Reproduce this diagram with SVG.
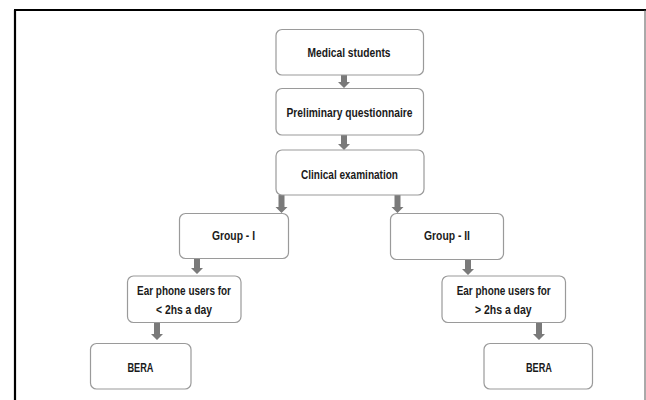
<svg xmlns="http://www.w3.org/2000/svg" width="646" height="400" viewBox="0 0 646 400">
<style>
.box{fill:#fff;stroke:#9a9a9a;stroke-width:1.2}
.t{font-family:"Liberation Sans",Arial,sans-serif;font-size:12px;font-weight:bold;fill:#1a1a1a;text-anchor:middle}
.arr{fill:#7a7a7a}
</style>
<rect x="0" y="0" width="646" height="400" fill="#fff"/>
<g id="frame">
<line x1="15" y1="10" x2="15" y2="400" stroke="#000" stroke-width="2.2"/>
<line x1="14" y1="10" x2="646" y2="10" stroke="#000" stroke-width="2.2"/>
<line x1="645" y1="10" x2="645" y2="400" stroke="#555" stroke-width="1"/>
</g>
<g id="connectors">
<polygon class="arr" points="341,75 347,75 347,82 350,82 344,88 338,82 341,82"/>
<polygon class="arr" points="341,135 347,135 347,144 350,144 344,150 338,144 341,144"/>
<polygon class="arr" points="278.5,195 284.5,195 284.5,207 287.5,207 281.5,213 275.5,207 278.5,207"/>
<polygon class="arr" points="394.5,195 400.5,195 400.5,207 403.5,207 397.5,213 391.5,207 394.5,207"/>
<polygon class="arr" points="194,258 200,258 200,268 203,268 197,274 191,268 194,268"/>
<polygon class="arr" points="465,259 471,259 471,269 474,269 468,275 462,269 465,269"/>
<polygon class="arr" points="154,322 160,322 160,334 163,334 157,340 151,334 154,334"/>
<polygon class="arr" points="536,323 542,323 542,334 545,334 539,340 533,334 536,334"/>
</g>
<g id="medical">
<rect class="box" x="276" y="29.5" width="147.5" height="45.5" rx="6"/>
<text class="t" x="349" y="57" textLength="83" lengthAdjust="spacingAndGlyphs">Medical students</text>
</g>
<g id="preliminary">
<rect class="box" x="276" y="88.5" width="147.5" height="46.5" rx="6"/>
<text class="t" x="349.5" y="117" textLength="126" lengthAdjust="spacingAndGlyphs">Preliminary questionnaire</text>
</g>
<g id="clinical">
<rect class="box" x="276" y="150" width="148" height="45" rx="6"/>
<text class="t" x="349.5" y="178.5" textLength="97" lengthAdjust="spacingAndGlyphs">Clinical examination</text>
</g>
<g id="group1">
<rect class="box" x="179.5" y="213.5" width="109" height="45" rx="6"/>
<text class="t" x="233.5" y="239.5" textLength="43" lengthAdjust="spacingAndGlyphs">Group - I</text>
</g>
<g id="group2">
<rect class="box" x="390.5" y="213.5" width="113" height="46" rx="6"/>
<text class="t" x="447" y="239.5" textLength="46" lengthAdjust="spacingAndGlyphs">Group - II</text>
</g>
<g id="ear1">
<rect class="box" x="127.5" y="276" width="113.5" height="46.5" rx="6"/>
<text class="t" x="184" y="294.5" textLength="94" lengthAdjust="spacingAndGlyphs">Ear phone users for</text>
<text class="t" x="184" y="313.5" textLength="56" lengthAdjust="spacingAndGlyphs">&lt; 2hs a day</text>
</g>
<g id="ear2">
<rect class="box" x="442" y="276" width="123.5" height="46.5" rx="6"/>
<text class="t" x="503.7" y="294.5" textLength="94" lengthAdjust="spacingAndGlyphs">Ear phone users for</text>
<text class="t" x="503.3" y="313.5" textLength="56.7" lengthAdjust="spacingAndGlyphs">&gt; 2hs a day</text>
</g>
<g id="bera1">
<rect class="box" x="90.5" y="343.5" width="100.5" height="45.5" rx="6"/>
<text class="t" x="140.5" y="372" textLength="26" lengthAdjust="spacingAndGlyphs">BERA</text>
</g>
<g id="bera2">
<rect class="box" x="484" y="343.5" width="108.5" height="45.5" rx="6"/>
<text class="t" x="539" y="372" textLength="26" lengthAdjust="spacingAndGlyphs">BERA</text>
</g>
</svg>
